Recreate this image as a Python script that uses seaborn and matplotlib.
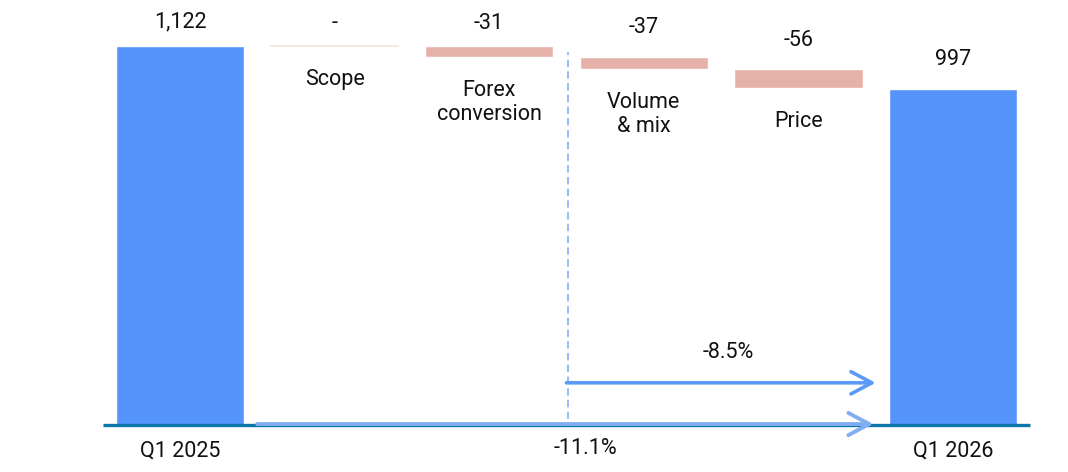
#!/usr/bin/env python3
"""
Waterfall bridge from Q1 2025 to Q1 2026 with organic / total change arrows.
"""

import matplotlib.pyplot as plt
import numpy as np
import seaborn as sns

sns.set_theme(style="white")
plt.rcParams["font.family"] = ["Roboto", "DejaVu Sans"]

# data
categories = ["Q1 2025", "Scope", "Forex\nconversion", "Volume\n& mix", "Price", "Q1 2026"]
values = [1122, 0, -31, -37, -56, 997]
value_labels = ["1,122", "-", "-31", "-37", "-56", "997"]
is_total = [True, False, False, False, False, True]
organic_change = "-8.5%"
total_change = "-11.1%"

BLUE = "#5594fa"
PINK = "#e6b1a8"
BASE = "#0b76a8"
ARROW_DARK = "#5b9af6"
ARROW_LIGHT = "#80aef0"
FS = 15.5

# gap (points) between bar top and its value label
label_gaps = [10, 9, 9, 13.5, 13, 13]

# waterfall geometry
bottoms, heights = [], []
running = 0
for v, tot in zip(values, is_total):
    if tot:
        bottoms.append(0)
        heights.append(v)
        running = v
    else:
        running += v
        bottoms.append(running)
        heights.append(-v)
bottoms = np.array(bottoms, dtype=float)
heights = np.array(heights, dtype=float)
tops = bottoms + heights

fig = plt.figure(figsize=(10.68, 4.72), dpi=100)
ax = fig.add_axes([0, 0, 1, 1])

sns.barplot(x=list(range(len(categories))), y=heights, bottom=bottoms,
            width=0.83, color=BLUE, saturation=1, ax=ax, zorder=2)
for p, tot, h in zip(ax.patches, is_total, heights):
    if not tot:
        p.set_facecolor(PINK)
    if h == 0:
        p.set_edgecolor("#f6e1dd")
        p.set_linewidth(1.2)

ax.set_xlim(-1.164, 5.744)
ax.set_ylim(-138, 1259)
ax.axis("off")

# baseline
ax.plot([-0.5, 5.5], [0, 0], color=BASE, lw=2.4, zorder=3, solid_capstyle="butt")

# value labels above bars
for i, lab in enumerate(value_labels):
    ax.annotate(lab, (i, tops[i]), xytext=(0, label_gaps[i]), textcoords="offset points",
                ha="center", va="bottom", fontsize=FS, color="#111111")

# category labels
for i, (cat, tot) in enumerate(zip(categories, is_total)):
    if tot:
        ax.annotate(cat, (i, 0), xytext=(0, -18.5), textcoords="offset points",
                    ha="center", va="center", fontsize=FS, color="#111111")
    else:
        ax.annotate(cat, (i, bottoms[i]), xytext=(0, -16.5), textcoords="offset points",
                    ha="center", va="top", fontsize=FS, color="#111111",
                    linespacing=1.2)

# dashed split between forex and organic drivers
ax.plot([2.51, 2.51], [20, 1105], color="#8ab4f8", lw=1.3, ls=(0, (4, 2.5)), zorder=1)

arrow_head = "->,head_length=0.75,head_width=0.4"
ax.annotate("", xy=(4.5, 126), xytext=(2.5, 126),
            arrowprops=dict(arrowstyle=arrow_head, color=ARROW_DARK, lw=2.6,
                            mutation_scale=20, shrinkA=0, shrinkB=0), zorder=4)
ax.text(3.545, 217, organic_change, ha="center", va="center", fontsize=FS, color="#111111")

ax.annotate("", xy=(4.485, 4), xytext=(0.5, 4),
            arrowprops=dict(arrowstyle=arrow_head, color=ARROW_LIGHT, lw=2.8,
                            mutation_scale=20, shrinkA=0, shrinkB=0), zorder=4)
ax.annotate(total_change, (2.62, 0), xytext=(0, -17), textcoords="offset points",
            ha="center", va="center", fontsize=FS, color="#111111")

fig.savefig("out.png", dpi=100)
